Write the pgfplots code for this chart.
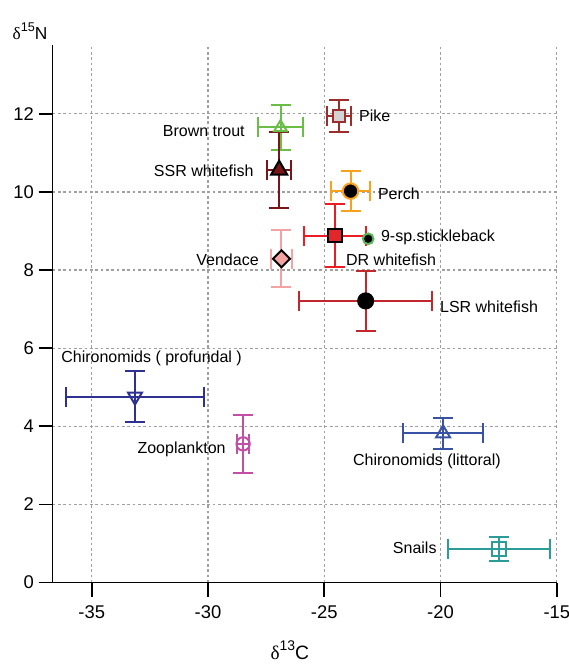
\documentclass[border=0pt]{standalone}
\usepackage{pgfplots}
\pgfplotsset{compat=1.18}
\usepackage{fontspec}
\setmainfont{Liberation Sans}
\newfontfamily\deltafont{Liberation Serif}
\definecolor{ctrout}{HTML}{6ABD45}
\definecolor{cssr}{HTML}{7A1518}
\definecolor{cpike}{HTML}{9B2D2D}
\definecolor{cpikefill}{HTML}{D3D3D3}
\definecolor{cperch}{HTML}{F9A11B}
\definecolor{cdr}{HTML}{ED1C24}
\definecolor{cdrfill}{HTML}{E3262A}
\definecolor{cstick}{HTML}{5CB85C}
\definecolor{cvend}{HTML}{F4A3A4}
\definecolor{clsr}{HTML}{C1272D}
\definecolor{cprof}{HTML}{2E3192}
\definecolor{czoo}{HTML}{C24FA6}
\definecolor{clit}{HTML}{3953A4}
\definecolor{csnail}{HTML}{2B9C98}
\pgfplotsset{
  eb/.style={only marks, line width=1.5pt,
    error bars/x dir=both, error bars/x explicit,
    error bars/y dir=both, error bars/y explicit,
    error bars/error mark=|,
    error bars/error bar style={#1, line width=1.5pt},
    error bars/error mark options={#1, line width=1.5pt, mark size=7.5pt}},
}
\begin{document}
\begin{tikzpicture}
\path[use as bounding box] (-39.5pt,-62.6pt) rectangle (387.2pt,436.9pt);
\begin{axis}[
  at={(0,0)}, anchor=south west,
  scale only axis, width=378.1pt, height=403.1pt,
  xmin=-36.68, xmax=-15, ymin=0, ymax=13.76,
  axis lines*=left,
  axis line style={black, line width=1.25pt},
  xtick={-35,-30,-25,-20,-15}, ytick={0,2,4,6,8,10,12},
  tick align=outside, major tick length=10.5pt,
  tick style={black, line width=1.25pt},
  /pgf/number format/assume math mode=true,
  tick label style={font=\fontsize{13.8}{16}\selectfont},
  xticklabel style={yshift=-3.5pt},
  grid=major,
  major grid style={gray!75, line width=0.9pt, dash pattern=on 2pt off 2pt},
  clip=false,
]
% Brown trout
\addplot[eb=ctrout, mark=triangle, mark size=5.5pt, mark options={draw=ctrout, line width=1.5pt}]
  coordinates {(-26.88,11.65) +- (0.98,0.57)};
% SSR whitefish
\addplot[eb=cssr, mark=triangle*, mark size=7pt, mark options={fill=cssr, draw=black, line width=1.5pt}]
  coordinates {(-26.94,10.56) +- (0.52,0.97)};
% Pike
\addplot[eb=cpike, mark=square*, mark size=4.5pt, mark options={fill=cpikefill, draw=cpike, line width=1.5pt}]
  coordinates {(-24.37,11.95) +- (0.52,0.41)};
% Perch
\addplot[eb=cperch, mark=*, mark size=5.8pt, mark options={fill=black, draw=cperch, line width=1.5pt}]
  coordinates {(-23.87,10.02) +- (0.85,0.51)};
% DR whitefish
\addplot[eb=cdr, mark=square*, mark size=5pt, mark options={fill=cdrfill, draw=black, line width=1.5pt}]
  coordinates {(-24.54,8.88) +- (1.32,0.81)};
% 9-sp stickleback
\addplot[only marks, mark=*, mark size=4pt, mark options={fill=black, draw=cstick, line width=1.5pt}]
  coordinates {(-23.11,8.80)};
% Vendace
\addplot[eb=cvend, mark=square*, mark size=4.5pt, mark options={rotate=45, fill=cvend, draw=black, line width=1.5pt}]
  coordinates {(-26.84,8.29) +- (0.47,0.73)};
% LSR whitefish
\addplot[eb=clsr, mark=*, mark size=5.9pt, mark options={fill=black, draw=black, line width=1pt}]
  coordinates {(-23.22,7.21) +- (2.87,0.76)};
% Chironomids profundal
\addplot[eb=cprof, mark=triangle, mark size=6pt, mark options={rotate=180, draw=cprof, line width=1.5pt}]
  coordinates {(-33.14,4.76) +- (2.97,0.66)};
% Zooplankton
\addplot[eb=czoo, mark=o, mark size=5pt, mark options={draw=czoo, line width=1.5pt}]
  coordinates {(-28.49,3.55) +- (0.25,0.74)};
% Chironomids littoral
\addplot[eb=clit, mark=triangle, mark size=6pt, mark options={draw=clit, line width=1.5pt}]
  coordinates {(-19.89,3.82) +- (1.71,0.39)};
% Snails
\addplot[eb=csnail, mark=square, mark size=5.5pt, mark options={draw=csnail, line width=1.5pt}]
  coordinates {(-17.48,0.86) +- (2.18,0.31)};

\begin{scope}[every node/.style={font=\fontsize{12}{14}\selectfont, inner sep=0pt}]
\node[anchor=west] at (axis cs:-23.51,11.95) {Pike};
\node[anchor=east] at (axis cs:-28.41,11.57) {Brown trout};
\node[anchor=east] at (axis cs:-28.03,10.54) {SSR whitefish};
\node[anchor=west] at (axis cs:-22.70,9.96) {Perch};
\node[anchor=west] at (axis cs:-22.57,8.83) {9-sp.stickleback};
\node[anchor=west] at (axis cs:-24.07,8.27) {DR whitefish};
\node[anchor=east] at (axis cs:-27.81,8.27) {Vendace};
\node[anchor=west] at (axis cs:-20.03,7.07) {LSR whitefish};
\node[anchor=west] at (axis cs:-36.32,5.74) {Chironomids ( profundal )};
\node[anchor=east] at (axis cs:-29.23,3.42) {Zooplankton};
\node[anchor=west] at (axis cs:-23.77,3.09) {Chironomids (littoral)};
\node[anchor=east] at (axis cs:-20.16,0.89) {Snails};
\end{scope}
\node[anchor=base, xshift=-17pt, yshift=4.5pt, font=\fontsize{13}{15}\selectfont, inner sep=0pt]
  at (rel axis cs:0,1) {{\deltafont δ}{\fontsize{9.5}{11}\selectfont\raisebox{5.5pt}{15}}N};
\node[anchor=base, yshift=-57.5pt, font=\fontsize{14.5}{16}\selectfont, inner sep=0pt]
  at (axis cs:-26.48,0) {{\deltafont δ}{\fontsize{10.5}{12}\selectfont\raisebox{6.5pt}{13}}C};
\end{axis}
\end{tikzpicture}
\end{document}
